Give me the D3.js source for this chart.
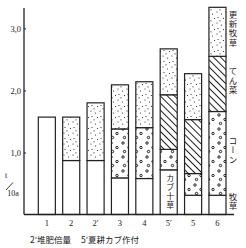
<!DOCTYPE html>
<html>
<head>
<meta charset="utf-8">
<script src="https://cdn.jsdelivr.net/npm/d3@7"></script>
<style>
body { margin: 0; background: #fff; }
text { fill: #1a1a1a; }
</style>
</head>
<body>
<div id="chart"></div>
<script>
// 各区の収量 (t/10a)
var categories = ["1", "2", "2′", "3", "4", "5′", "5", "6"];
var bokusou = [1.57, 0.87, 0.87, 0.59, 0.58, 0.72, 0.31, 0.31]; // 牧草 (5′はカブ+草)
var corn    = [0,    0,    0,    0.79, 0.82, 0.33, 0.35, 1.35]; // コーン
var tensai  = [0,    0,    0,    0,    0,    0.88, 0.87, 0.89]; // てん菜
var koushin = [0,    0.70, 0.93, 0.71, 0.74, 0.74, 0.74, 0.79]; // 更新牧草
var seriesKeys = ["bokusou", "corn", "tensai", "koushin"];
var seriesNames = ["牧草", "コーン", "てん菜", "更新牧草"];
var yTicks = [1, 2, 3];
var yTickLabels = ["1,0", "2,0", "3,0"];

var table = categories.map(function(c, i) {
    return { cat: c, bokusou: bokusou[i], corn: corn[i], tensai: tensai[i], koushin: koushin[i] };
});

var widthx = 246, heighty = 248;
var svg = d3.select("#chart").append("svg")
    .attr("width", widthx)
    .attr("height", heighty);

var x = d3.scaleBand()
    .domain(categories)
    .range([38.3, 226])
    .paddingInner(0.3)
    .paddingOuter(0);

var y = d3.scaleLinear()
    .domain([0, 3])
    .range([214.5, 28.4]);

// 模様
var defs = svg.append("defs");
var dots = defs.append("pattern").attr("id", "dots")
    .attr("patternUnits", "userSpaceOnUse").attr("width", 9).attr("height", 11);
dots.append("rect").attr("width", 9).attr("height", 11).attr("fill", "#fff");
[[1, 1], [5.5, 3], [2, 6.5], [7.5, 7.5], [4, 9.8]].forEach(function(p) {
    dots.append("circle").attr("cx", p[0]).attr("cy", p[1]).attr("r", 0.6).attr("fill", "#222");
});

var rings = defs.append("pattern").attr("id", "rings")
    .attr("patternUnits", "userSpaceOnUse").attr("width", 12).attr("height", 14);
rings.append("rect").attr("width", 12).attr("height", 14).attr("fill", "#fff");
[[3, 3], [9, 7.5], [4.5, 11.5]].forEach(function(p) {
    rings.append("circle").attr("cx", p[0]).attr("cy", p[1]).attr("r", 1.2)
        .attr("fill", "#fff").attr("stroke", "#222").attr("stroke-width", 1);
});

var hatch = defs.append("pattern").attr("id", "hatch")
    .attr("patternUnits", "userSpaceOnUse").attr("width", 5).attr("height", 5)
    .attr("patternTransform", "rotate(-45)");
hatch.append("rect").attr("width", 5).attr("height", 5).attr("fill", "#fff");
hatch.append("line").attr("x1", 0.5).attr("y1", 0).attr("x2", 0.5).attr("y2", 5)
    .attr("stroke", "#222").attr("stroke-width", 1);

var fills = { bokusou: "#fff", corn: "url(#rings)", tensai: "url(#hatch)", koushin: "url(#dots)" };

var stack = d3.stack().keys(seriesKeys);
var layers = stack(table);

svg.selectAll(".layer")
    .data(layers)
    .enter().append("g")
    .attr("class", "layer")
    .attr("fill", function(d) { return fills[d.key]; })
    .selectAll("rect")
    .data(function(d) { return d.filter(function(s) { return s[1] - s[0] > 0; }); })
    .enter().append("rect")
    .attr("x", function(d) { return x(d.data.cat); })
    .attr("y", function(d) { return y(d[1]); })
    .attr("width", x.bandwidth())
    .attr("height", function(d) { return y(d[0]) - y(d[1]); })
    .attr("stroke", "#222")
    .attr("stroke-width", 1.2);

// 軸
svg.append("line")
    .attr("x1", 24).attr("x2", 24)
    .attr("y1", y(3.33)).attr("y2", y(0))
    .attr("stroke", "#222").attr("stroke-width", 1.3);
svg.append("line")
    .attr("x1", 24).attr("x2", 234)
    .attr("y1", y(0)).attr("y2", y(0))
    .attr("stroke", "#222").attr("stroke-width", 1.3);

var yAxis = svg.append("g")
    .attr("transform", "translate(24,0)")
    .call(d3.axisLeft(y).tickValues(yTicks)
        .tickFormat(function(d, i) { return yTickLabels[i]; })
        .tickSize(-2).tickPadding(3));
yAxis.select(".domain").remove();
yAxis.selectAll("line").attr("stroke", "#222");
yAxis.selectAll("text")
    .attr("font-family", "'Liberation Serif', serif")
    .attr("font-size", 8.5)
    .attr("fill", "#1a1a1a");

// 横軸ラベル
svg.selectAll(".xlab")
    .data(categories)
    .enter().append("text")
    .attr("class", "xlab")
    .attr("x", function(d) { return x(d) + x.bandwidth() / 2; })
    .attr("y", 226)
    .attr("text-anchor", "middle")
    .attr("font-family", "'Liberation Serif', serif")
    .attr("font-size", 8.5)
    .text(function(d) { return d; });

// 単位
svg.append("text").attr("x", 6).attr("y", 178)
    .attr("text-anchor", "middle")
    .attr("font-family", "'Liberation Serif', serif").attr("font-size", 8)
    .text("t");
svg.append("line").attr("x1", 6).attr("y1", 190).attr("x2", 13).attr("y2", 182.5)
    .attr("stroke", "#222").attr("stroke-width", 0.9);
svg.append("text").attr("x", 13).attr("y", 195.5)
    .attr("text-anchor", "middle")
    .attr("font-family", "'Liberation Serif', serif").attr("font-size", 8)
    .text("10a");

// 右側の凡例（区6の各層に合わせる）
var last = categories.length - 1;
layers.forEach(function(layer, i) {
    var s = layer[last];
    svg.append("text")
        .attr("x", 233)
        .attr("y", (y(s[0]) + y(s[1])) / 2 - 3)
        .attr("text-anchor", "middle")
        .style("writing-mode", "vertical-rl")
        .attr("font-family", "'Noto Sans CJK JP', sans-serif")
        .attr("font-size", 8.5)
        .attr("letter-spacing", 0.8)
        .text(seriesNames[i]);
});

// 5′のカブ+草
var i5 = categories.indexOf("5′");
svg.append("text")
    .attr("x", x("5′") + x.bandwidth() / 2 + 1.5)
    .attr("y", (y(0) + y(bokusou[i5])) / 2)
    .attr("text-anchor", "middle")
    .style("writing-mode", "vertical-rl")
    .attr("font-family", "'Noto Sans CJK JP', sans-serif")
    .attr("font-size", 8)
    .attr("letter-spacing", 1)
    .text("カブ十草");

// 注記
svg.append("text").attr("x", 30).attr("y", 242.5)
    .attr("font-family", "'Noto Sans CJK JP', sans-serif").attr("font-size", 8.5)
    .text("2′堆肥倍量");
svg.append("text").attr("x", 81).attr("y", 242.5)
    .attr("font-family", "'Noto Sans CJK JP', sans-serif").attr("font-size", 8.5)
    .text("5′夏耕カブ作付");
</script>
</body>
</html>
